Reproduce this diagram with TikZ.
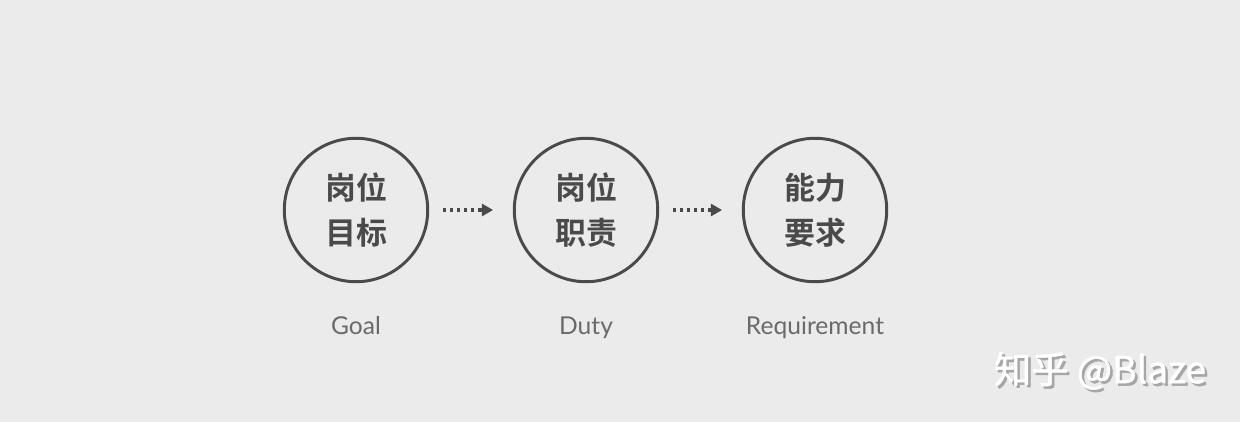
\documentclass[tikz,border=0pt]{standalone}
\usepackage{fontspec}
\setmainfont{Lato}
\newfontfamily\cjkmark[FakeBold=1.2]{Noto Sans CJK SC}
\newfontfamily\cjkbold{Noto Sans CJK SC Bold}
\usetikzlibrary{arrows.meta}
\definecolor{bgc}{HTML}{EBEBEB}
\definecolor{ringc}{HTML}{4A4A4A}
\definecolor{labc}{HTML}{6A6A6A}
\newcommand{\shadowtext}[1]{\makebox[0pt][l]{\hspace{1.8pt}\raisebox{-1.8pt}{\color{gray!70}#1}}#1}
\tikzset{
  ring/.style={circle, draw=ringc, line width=2.1pt, minimum size=102pt, inner sep=0pt,
    text=ringc, font=\cjkbold\fontsize{22pt}{32pt}\selectfont, align=center},
  flow/.style={ringc, line width=2.2pt, dash pattern=on 2.2pt off 2.8pt,
    -{Triangle[length=8pt,width=8.5pt]}, shorten <=10pt, shorten >=14pt},
  caption/.style={text=labc, font=\fontsize{17.5pt}{20pt}\selectfont}
}
\begin{document}
\begin{tikzpicture}[x=0.025cm,y=-0.025cm]
\fill[bgc] (0,0) rectangle (1240,422);
\useasboundingbox (0,0) rectangle (1240,422);
% the three stages
\node[ring] (goal) at (356,210) {岗位\\目标};
\node[ring] (duty) at (586,210) {岗位\\职责};
\node[ring] (req) at (815,210) {能力\\要求};
\draw[flow] (goal) -- (duty);
\draw[flow] (duty) -- (req);
% english captions
\node[caption, anchor=base] (goalcap) at (356,334) {Goal};
\node[caption, anchor=base] (dutycap) at (586,334) {Duty};
\node[caption, anchor=base] (reqcap) at (815,334) {Requirement};
% watermark
\node[text=white, font=\cjkmark\fontsize{26.5pt}{30pt}\selectfont] (mark) at (1100,372) {\shadowtext{知乎 @Blaze}};
\end{tikzpicture}
\end{document}
